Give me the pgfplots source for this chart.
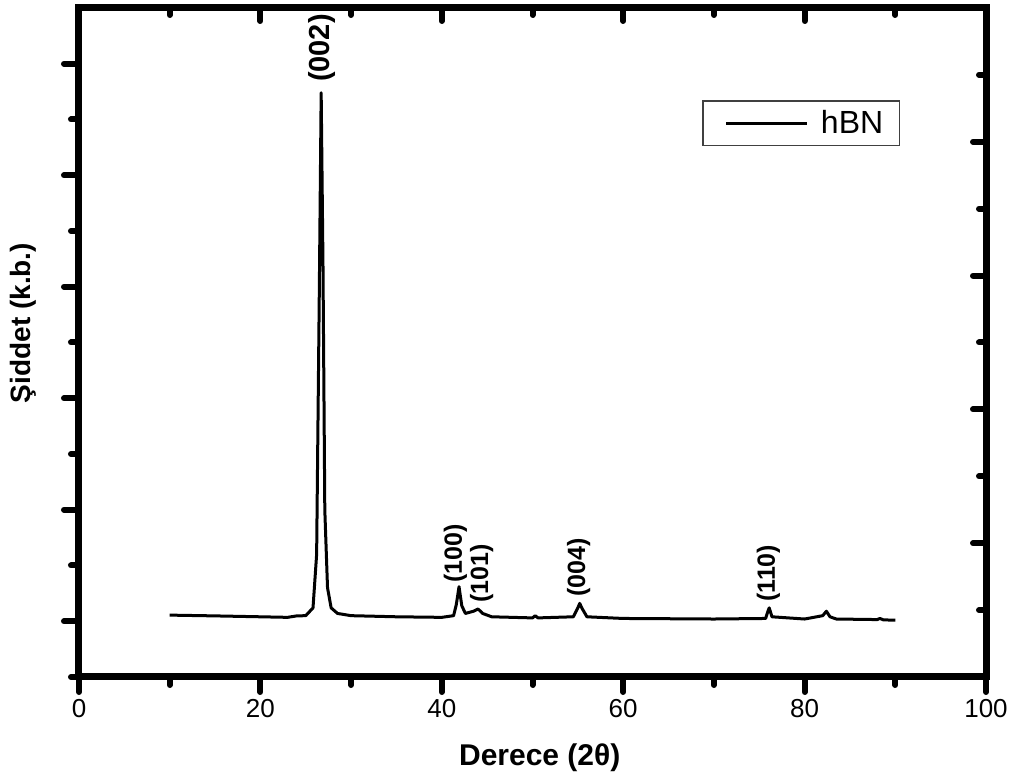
\documentclass[border=0pt]{standalone}
\usepackage{fontspec}
\setmainfont{Liberation Sans}
\usepackage{pgfplots}
\pgfplotsset{compat=1.18}
\usetikzlibrary{calc}

\pgfplotstableread{
x y
10.0 0.055
15.0 0.048
20.0 0.040
23.0 0.035
24.0 0.048
25.0 0.050
25.8 0.120
26.2 0.600
26.5 3.000
26.7 4.740
26.9 3.200
27.1 1.000
27.4 0.300
27.8 0.120
28.5 0.070
30.0 0.050
35.0 0.040
40.0 0.035
41.3 0.050
41.6 0.150
41.9 0.310
42.2 0.140
42.6 0.070
43.5 0.090
44.0 0.110
44.5 0.070
45.5 0.040
50.0 0.030
50.3 0.050
50.6 0.030
54.5 0.040
55.0 0.120
55.2 0.160
55.5 0.110
56.0 0.040
60.0 0.025
70.0 0.020
75.7 0.025
76.0 0.100
76.1 0.120
76.4 0.040
80.0 0.020
82.0 0.050
82.4 0.090
82.8 0.040
83.5 0.020
88.0 0.015
88.3 0.025
88.7 0.012
90.0 0.010
}\hbn

\begin{document}
\begin{tikzpicture}
\pgfplotsset{
  common/.style={
    scale only axis, width=453.5pt, height=334.5pt,
    xmin=0, xmax=100, ymin=-0.5, ymax=5.5,
    axis line style={line width=3.5pt},
    every tick/.append style={line width=3pt, line cap=round, black},
    every major tick/.append style={line width=3pt, line cap=round, black},
    every minor tick/.append style={line width=3pt, line cap=round, black},
    major tick length=7.5pt, minor tick length=4pt,
  }
}
\begin{axis}[common, clip=false,
  tick align=outside,
  xtick pos=left, ytick pos=left,
  xtick={0,20,...,100}, minor xtick={10,30,...,90},
  ytick={0,1,...,5}, minor ytick={-0.5,0.5,...,4.5},
  yticklabels={},
  xticklabel style={font=\fontsize{13}{15}\selectfont},
  /pgf/number format/assume math mode=true,
  legend style={at={(0.905,0.862)}, anchor=north east, draw=black!75,
    line width=0.6pt, font=\fontsize{16}{18}\selectfont,
    inner xsep=6pt, inner ysep=2.5pt},
  legend image code/.code={\path (-5pt,0pt) (44.5pt,0pt);
    \draw[line width=1.5pt] (0pt,0pt) -- (40.5pt,0pt);},
]
\addplot[black, line width=1.5pt, line join=round] table[x=x, y=y] {\hbn};
\addlegendentry{hBN}
\node[rotate=90, font=\bfseries\fontsize{14.5}{16}\selectfont] at (axis cs:26.8,5.14) {(002)};
\node[rotate=90, font=\bfseries\fontsize{12.5}{14}\selectfont] at (axis cs:41.5,0.61) {(100)};
\node[rotate=90, font=\bfseries\fontsize{12.5}{14}\selectfont] at (axis cs:44.4,0.43) {(101)};
\node[rotate=90, font=\bfseries\fontsize{12.5}{14}\selectfont] at (axis cs:55.1,0.48) {(004)};
\node[rotate=90, font=\bfseries\fontsize{12.5}{14}\selectfont] at (axis cs:76.0,0.43) {(110)};
\node[rotate=90, font=\bfseries\fontsize{14}{16}\selectfont] at (rel axis cs:-0.062,0.529) {Şiddet (k.b.)};
\node[font=\bfseries\fontsize{15}{17}\selectfont] at (rel axis cs:0.508,-0.121) {Derece (2θ)};
\end{axis}
\begin{axis}[common,
  tick align=inside,
  xtick pos=right, ytick pos=right,
  xtick={0,20,...,100}, minor xtick={10,30,...,90},
  ytick={0.7,1.9,3.1,4.3}, minor ytick={0.1,1.3,2.5,3.7,4.9},
  xticklabels={}, yticklabels={},
  major tick length=6.5pt, minor tick length=3.5pt,
]
\end{axis}
\pgfresetboundingbox
\path ($(current axis.south west)+(-39.5pt,-51.5pt)$) rectangle ($(current axis.north east)+(20pt,4pt)$);
\end{tikzpicture}
\end{document}
